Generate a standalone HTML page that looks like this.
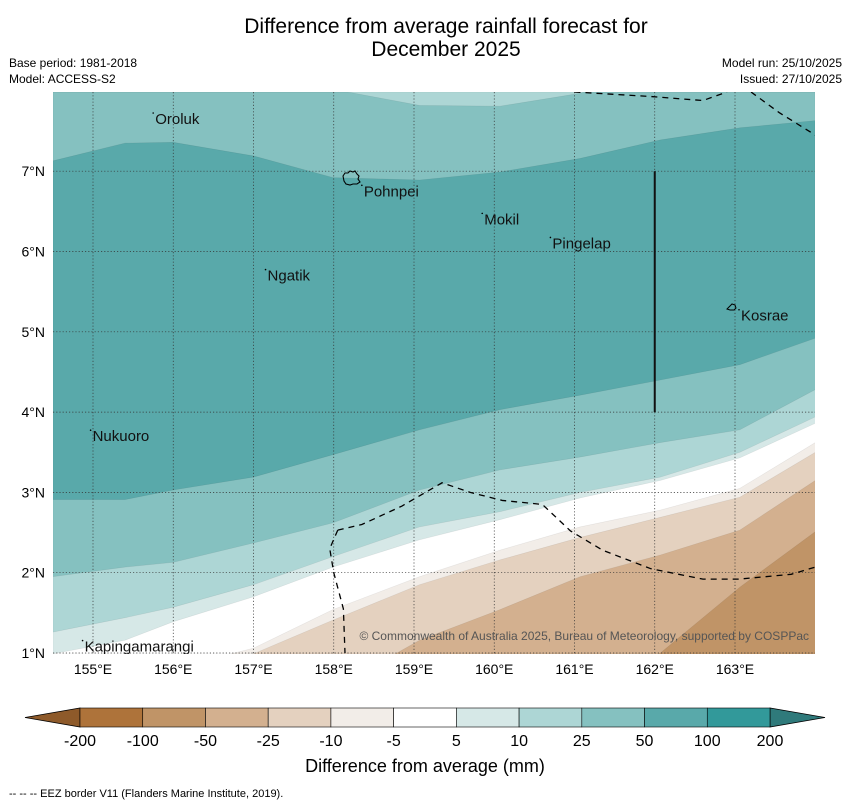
<!DOCTYPE html>
<html><head><meta charset="utf-8"><style>
html,body{margin:0;padding:0;background:#fff;}
body{width:850px;height:804px;overflow:hidden;font-family:"Liberation Sans","DejaVu Sans",sans-serif;}
svg{display:block;}
svg text{font-family:"Liberation Sans","DejaVu Sans",sans-serif;}
</style></head><body>
<svg id="chart" width="850" height="804" viewBox="0 0 850 804" xmlns="http://www.w3.org/2000/svg">
<text x="446" y="33" font-size="21" text-anchor="middle">Difference from average rainfall forecast for</text>
<text x="446" y="56" font-size="21" text-anchor="middle">December 2025</text>
<text x="9" y="67" font-size="12">Base period: 1981-2018</text>
<text x="9" y="83" font-size="12">Model: ACCESS-S2</text>
<text x="842" y="67" font-size="12" text-anchor="end">Model run: 25/10/2025</text>
<text x="842" y="83" font-size="12" text-anchor="end">Issued: 27/10/2025</text>
<defs><clipPath id="mapclip"><rect x="53" y="92" width="762" height="562"/></clipPath></defs>
<g id="map" clip-path="url(#mapclip)"></g>
<g id="axes"></g>
<g id="cbar"></g>
<text x="425" y="772" font-size="18" text-anchor="middle">Difference from average (mm)</text>
<text x="9" y="797" font-size="11">--  --  -- EEZ border V11 (Flanders Marine Institute, 2019).</text>
</svg>
<script>
// ---- data ----
const lons = [154.50,155.40,156.00,157.00,157.99,159.07,160.07,161.07,162.07,163.06,164.0];
const bndA = [8.3,8.3,8.3,8.3,8.02,7.82,7.81,7.97,8.3,8.3,8.3];
const bndB = [7.13,7.35,7.36,7.19,6.92,6.89,6.99,7.16,7.39,7.54,7.63];
const bndC = [2.91,2.91,3.03,3.19,3.47,3.78,4.03,4.21,4.40,4.59,4.92];
const bndD = [1.95,2.07,2.13,2.37,2.62,3.03,3.28,3.44,3.62,3.78,4.28];
const bndE = [1.26,1.44,1.57,1.85,2.20,2.57,2.76,3.00,3.19,3.50,3.94];
const bndF = [0.99,1.16,1.39,1.70,2.07,2.41,2.66,2.93,3.15,3.43,3.86];
const bndG = [0.41,0.60,0.81,1.06,1.54,1.95,2.28,2.57,2.78,3.05,3.62];
const bndH = [0.16,0.41,0.60,0.99,1.41,1.85,2.16,2.44,2.69,2.94,3.50];
const bndI = [-0.83,-0.58,-0.33,0.04,0.55,1.16,1.54,1.95,2.22,2.53,3.15];
const bndJ = [-2.08,-2.08,-1.83,-1.45,-0.83,-0.33,0.04,0.41,1.0,1.82,2.51];
const levels = ["-200","-100","-50","-25","-10","-5","5","10","25","50","100","200"];
const levelColors = ["#ae733a","#c09467","#d3b08f","#e4d1bf","#f2ede8","#ffffff","#d6e8e7","#add6d5","#85c1c0","#59a9aa","#32999a"];
const lonTicks = [155,156,157,158,159,160,161,162,163];
const latTicks = [1,2,3,4,5,6,7];
const places = [["Oroluk",155.75,7.65],["Pohnpei",158.35,6.75],["Mokil",159.85,6.4],["Pingelap",160.7,6.1],["Ngatik",157.15,5.7],["Kosrae",163.05,5.2],["Nukuoro",154.97,3.7],["Kapingamarangi",154.87,1.08]];
const eezA = [[158.05,2.53],[157.95,2.3],[158.0,2.0],[158.12,1.55],[158.14,1.0]];
const eezB = [[158.05,2.53],[158.35,2.6],[158.85,2.83],[159.35,3.12],[159.7,3.0],[160.1,2.9],[160.6,2.85],[160.95,2.52],[161.35,2.28],[161.95,2.05],[162.6,1.92],[163.05,1.92],[163.7,1.98],[164.0,2.07]];
const eezC = [[161.0,7.99],[161.95,7.93],[162.6,7.88],[162.9,7.99]];
const eezD = [[163.2,7.99],[163.55,7.73],[164.0,7.45]];
// ---- scales ----
const X = lon => 93 + (lon-155)*80.25;
const Yraw = lat => 653 - (lat-1)*80.3;
const Y = lat => Math.min(654, Math.max(92, Yraw(lat)));
const NS = "http://www.w3.org/2000/svg";
function mk(tag, attrs, parent){const e=document.createElementNS(NS,tag);for(const k in attrs)e.setAttribute(k,attrs[k]);parent.appendChild(e);return e;}
const map = document.getElementById('map');
const bg = mk('rect',{x:53,y:92,width:762,height:562,fill:levelColors[1]},map);


const bounds = [bndJ,bndI,bndH,bndG,bndF,bndE,bndD,bndC,bndB,bndA];
const fills = [levelColors[2],levelColors[3],levelColors[4],levelColors[5],levelColors[6],levelColors[7],levelColors[8],levelColors[9],levelColors[8],levelColors[7]];
const bandNames = ['band-minus50','band-minus25','band-minus10','band-minus5','band-5','band-10','band-25','band-50','band-25-north','band-10-north'];
function yAt(b,k){return Yraw(b[k]);}
bounds.forEach((b,i)=>{
  // build boundary points, clipping segments at map bottom/top edges
  const pts=[];
  for(let k=0;k<lons.length;k++){
    if(k>0){
      const y0=yAt(b,k-1),y1=yAt(b,k);
      [654,92].forEach(edge=>{
        if((y0-edge)*(y1-edge)<0){const t=(edge-y0)/(y1-y0);pts.push([X(lons[k-1])+t*(X(lons[k])-X(lons[k-1])),edge]);}
      });
    }
    pts.push([X(lons[k]),Y(b[k])]);
  }
  let d='M'+pts.map(p=>p[0].toFixed(1)+','+p[1].toFixed(1)).join(' L');
  d += ' L815,92 L53,92 Z';
  const p = mk('path',{d:d,fill:fills[i],stroke:'rgba(0,0,0,0.08)','stroke-width':0.6},map);
  
  
});
// grid
lonTicks.forEach(l=>{const g=mk('line',{x1:X(l),x2:X(l),y1:92,y2:654,stroke:'#333','stroke-width':0.7,'stroke-dasharray':'1.2,2'},map);

});
latTicks.forEach(l=>{const g=mk('line',{x1:53,x2:815,y1:Y(l),y2:Y(l),stroke:'#333','stroke-width':0.7,'stroke-dasharray':'1.2,2'},map);

});
// EEZ
[eezA,eezB,eezC,eezD].forEach((e,i)=>{const p=mk('polyline',{points:e.map(q=>X(q[0])+','+Y(q[1])).join(' '),fill:'none',stroke:'#000','stroke-width':1.3,'stroke-dasharray':'6,5'},map);

});
const vl = mk('line',{x1:X(162),x2:X(162),y1:Y(7),y2:Y(4),stroke:'#111','stroke-width':2},map);


// islands
const pi = mk('path',{d:'M343,176 l2,-3 l3,0 l2,-2 l3,1 l2,-1 l2,3 l2,2 l-1,3 l2,3 l-3,2 l-4,0 l-3,1 l-4,-1 l-2,-3 Z',fill:'none',stroke:'#000','stroke-width':1.1},map);


const ki = mk('path',{d:'M727,309 l3,-3 l2,-2 l3,1 l1,3 l-2,2 l-4,0 Z',fill:'none',stroke:'#000','stroke-width':1},map);


places.forEach(p=>{const t=mk('text',{x:X(p[1])+2,y:Y(p[2])+5,'font-size':15,fill:'#111'},map);t.textContent=p[0];


const dt=mk('circle',{cx:X(p[1]),cy:Y(p[2])-6,r:0.8,fill:'#000'},map);

});
const cp = mk('text',{x:809,y:640,'font-size':12,fill:'#555','text-anchor':'end'},map);
cp.textContent='© Commonwealth of Australia 2025, Bureau of Meteorology, supported by COSPPac';


// axes labels
const axes=document.getElementById('axes');
lonTicks.forEach(l=>{const t=mk('text',{x:X(l),y:674,'font-size':14,'text-anchor':'middle'},axes);t.textContent=l+'°E';

});
latTicks.forEach(l=>{const t=mk('text',{x:45,y:Y(l)+5,'font-size':14,'text-anchor':'end'},axes);t.textContent=l+'°N';

});
// colorbar
const cb=document.getElementById('cbar');
const cx0=80,cx1=770,cy=708,ch=19,seg=(cx1-cx0)/levelColors.length;
const lt=mk('polygon',{points:`25,${cy+ch/2} ${cx0},${cy} ${cx0},${cy+ch}`,fill:'#8e5a2a',stroke:'#000','stroke-width':0.8},cb);


const rt=mk('polygon',{points:`825,${cy+ch/2} ${cx1},${cy} ${cx1},${cy+ch}`,fill:'#2f7a7b',stroke:'#000','stroke-width':0.8},cb);


levelColors.forEach((c,i)=>{const r=mk('rect',{x:cx0+i*seg,y:cy,width:seg,height:ch,fill:c,stroke:'#000','stroke-width':0.6},cb);

});
levels.forEach((l,i)=>{const t=mk('text',{x:cx0+i*seg,y:746,'font-size':16,'text-anchor':'middle'},cb);t.textContent=l;

});
</script>
</body></html>
